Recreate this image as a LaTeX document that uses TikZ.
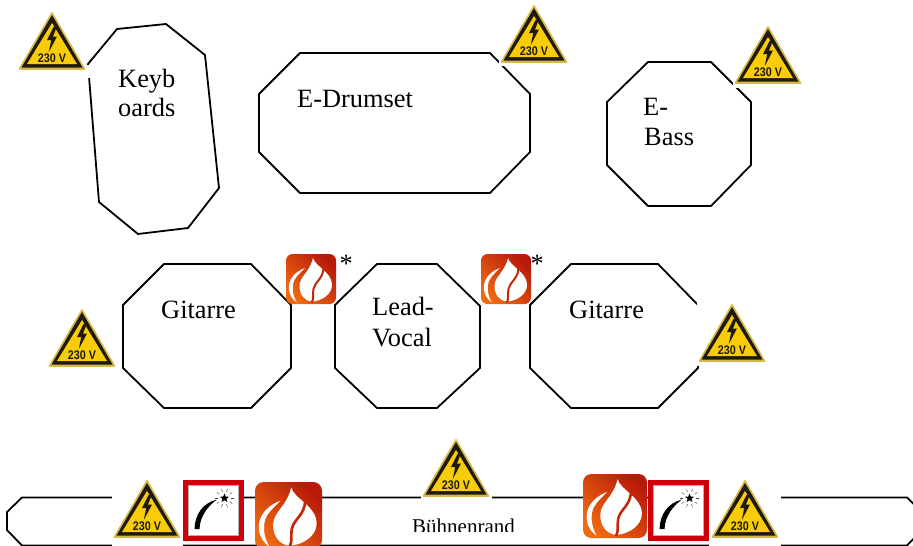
\documentclass[tikz,border=0pt]{standalone}
\usepackage{fontspec}
\setmainfont{Liberation Serif}
\newfontfamily\signfont{Liberation Sans}[Scale=1.0]
\definecolor{signyellow}{HTML}{F8CC08}
\definecolor{signgold}{HTML}{D8B84A}
\definecolor{signblack}{HTML}{1E1A10}
\definecolor{flameA}{HTML}{EE6A10}
\definecolor{flameB}{HTML}{B81A0A}
\definecolor{fusered}{HTML}{D00008}
\tikzset{
  outline/.style={draw=black,line width=1.8pt,line join=round},
  mask/.style={fill=white,draw=none},
  lbl/.style={anchor=base west,inner sep=0pt,font=\fontsize{26.4}{26.4}\selectfont},
  warn/.pic={
    \fill[signgold,draw=signgold,line width=1.6pt,line join=round] (0,0) -- (32.5,56) -- (-32.5,56) -- cycle;
    \fill[signblack,line join=round] (0,2) -- (30.5,54.5) -- (-30.5,54.5) -- cycle;
    \fill[signyellow] (0,10) -- (25,51) -- (-25,51) -- cycle;
    \fill[signblack] (1.5,14) -- (-5,27) -- (-0.8,27) -- (-3.2,39) -- (5,23.5) -- (1,23.5) -- (4.5,14.5) -- cycle;
    \node[anchor=base,inner sep=0pt,text=signblack,xscale=.86,font=\signfont\bfseries\fontsize{12.5}{12.5}\selectfont] (warntext) at (0,49) {230 V};
  },
  flame/.pic={
    \begin{scope}[x=#1pt,y=-#1pt]
      \shade[left color=flameA,right color=flameB,shading angle=135,rounded corners=#1*0.13pt] (0,0) rectangle (1,1);
      \fill[white] (.54,.08) .. controls (.58,.25) and (.92,.36) .. (.92,.62)
        .. controls (.92,.80) and (.72,.94) .. (.52,.95)
        .. controls (.36,.94) and (.27,.80) .. (.27,.64)
        .. controls (.27,.45) and (.48,.36) .. (.54,.08) -- cycle;
      \draw[flameB!85!orange,line width=#1*0.04pt,line cap=round] (.75,.28) .. controls (.74,.50) and (.58,.55) .. (.55,.70) .. controls (.53,.80) and (.56,.88) .. (.52,.96);
      \fill[white] (.38,.28) .. controls (.15,.36) and (.03,.55) .. (.06,.72)
        .. controls (.08,.85) and (.15,.92) .. (.21,.96)
        .. controls (.12,.80) and (.11,.62) .. (.18,.50)
        .. controls (.23,.42) and (.31,.35) .. (.38,.28) -- cycle;
    \end{scope}
  },
  fuse/.pic={
    \fill[white] (0,0) rectangle (61,61);
    \draw[fusered,line width=5.4pt] (2.7,2.7) rectangle (58.3,58.3);
    \draw[black!30,line width=.5pt] (5.6,5.6) rectangle (55.4,55.4);
    \fill[black] (11.5,49) .. controls (12,34) and (20,23) .. (34,19.5)
      .. controls (25,26) and (17,36) .. (16.5,49) -- cycle;
    \fill[black] (41.5,13.5) -- (42.8,16.6) -- (46,16.8) -- (43.5,18.9) -- (44.4,22) -- (41.5,20.2) -- (38.6,22) -- (39.5,18.9) -- (37,16.8) -- (40.2,16.6) -- cycle;
    \foreach \a in {0,36,...,324}{
      \draw[black!75,line width=.45pt] (41.5,18) ++(\a:6.5) -- ++(\a:3);
    }
  }
}
\begin{document}
\begin{tikzpicture}[x=1pt,y=-1pt]
\useasboundingbox (0,0) rectangle (913,546);
\clip (0,0) rectangle (913,546);
% outlines
\draw[outline] (88,64) -- (117,29) -- (166,24) -- (205,55) -- (219,188) -- (188,228) -- (138,234) -- (99,202) -- cycle;
\draw[outline] (259,94) -- (300,53) -- (490,53) -- (530,94) -- (530,152) -- (490,193) -- (300,193) -- (259,152) -- cycle;
\draw[outline] (607,102) -- (648,62) -- (711,62) -- (751,102) -- (751,165) -- (711,206) -- (648,206) -- (607,165) -- cycle;
\draw[outline] (123,305) -- (164,264) -- (251,264) -- (291,305) -- (291,368) -- (251,408) -- (164,408) -- (123,368) -- cycle;
\draw[outline] (335,305) -- (377,264) -- (437,264) -- (480,306) -- (480,368) -- (437,408) -- (377,408) -- (335,368) -- cycle;
\draw[outline] (530,305) -- (571,264) -- (658,264) -- (698,305) -- (698,368) -- (658,408) -- (571,408) -- (530,368) -- cycle;
\draw[outline] (7,512) -- (22,497.5) -- (907,497.5) -- (920,510) -- (920,532) -- (907,545.5) -- (22,545.5) -- (7,530) -- cycle;
% white boxes of the sign pictures
\fill[mask] (17,5) rectangle (87,77);
\fill[mask] (17,65) rectangle (92,77.5);
\fill[mask] (499,2) rectangle (569,66);
\fill[mask] (733,22) rectangle (803,88);
\fill[mask] (697,300) rectangle (767,366);
\fill[mask] (421,436) rectangle (492,504);
\fill[mask] (112,475) rectangle (183,546);
\fill[mask] (709,475) rectangle (781,546);
% labels
\node[lbl] (keyb1) at (118,87) {Keyb};
\node[lbl] (keyb2) at (118,116) {oards};
\node[lbl] (drum) at (297,107) {E-Drumset};
\node[lbl] (bass1) at (643,115) {E-};
\node[lbl] (bass2) at (644,145) {Bass};
\node[lbl] (git1) at (161,318) {Gitarre};
\node[lbl] (lead1) at (372,315) {Lead-};
\node[lbl] (lead2) at (372,346) {Vocal};
\node[lbl] (git2) at (569,318) {Gitarre};
\node[lbl] (star1) at (339.5,272) {*};
\node[lbl] (star2) at (530.5,272) {*};
\node[lbl,font=\fontsize{21}{21}\selectfont] (rand) at (412,533.5) {Bühnenrand};
\fill[mask] (408,532) rectangle (520,544);
% signs
\pic at (52,13) {warn};
\pic at (534,6) {warn};
\pic at (768,27) {warn};
\pic at (82,310) {warn};
\pic at (732,305) {warn};
\pic at (456,440) {warn};
\pic at (147,481) {warn};
\pic at (745,481) {warn};
% flames
\pic at (286,254) {flame=50};
\pic at (481,254) {flame=50};
\pic at (255,482) {flame=67};
\pic at (583,474) {flame=64};
% fuses
\pic at (183,480) {fuse};
\pic at (648,480) {fuse};
\end{tikzpicture}
\end{document}
